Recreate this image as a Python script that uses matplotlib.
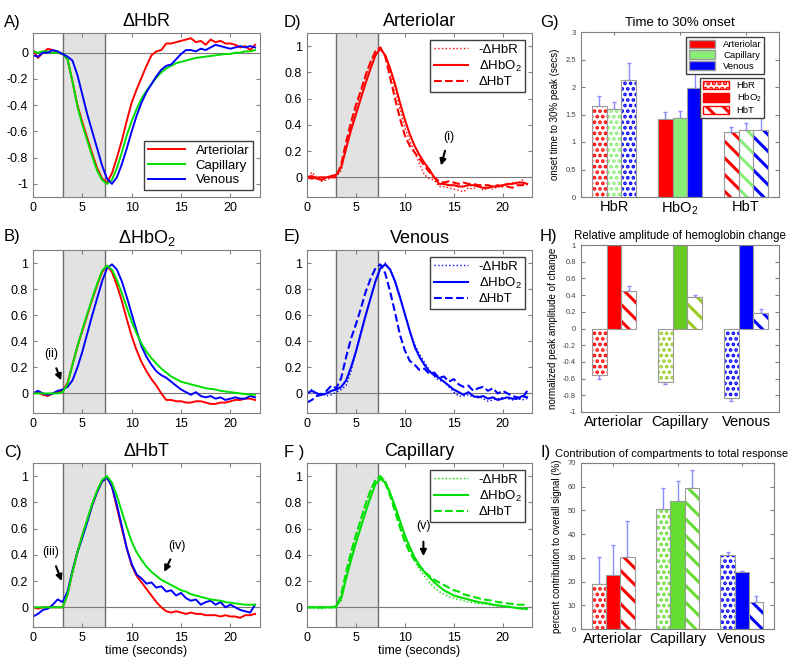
import matplotlib
matplotlib.use("Agg")
import matplotlib.pyplot as plt
from matplotlib.patches import Patch
from matplotlib.ticker import FuncFormatter

plt.rcParams['font.family'] = ['Liberation Sans', 'DejaVu Sans']
plt.rcParams['mathtext.fontset'] = 'custom'
plt.rcParams['mathtext.rm'] = 'Liberation Sans'
plt.rcParams['mathtext.it'] = 'Liberation Sans:italic'
plt.rcParams['hatch.linewidth'] = 2.2

# time axis (seconds) and stimulus window
t = [0, 0.5, 1, 1.5, 2, 2.5, 3, 3.5, 4, 4.5, 5, 5.5, 6, 6.5, 7, 7.5, 8, 8.5, 9, 9.5,
     10, 10.5, 11, 11.5, 12, 12.5, 13, 13.5, 14, 14.5, 15, 15.5, 16, 16.5, 17, 17.5,
     18, 18.5, 19, 19.5, 20, 20.5, 21, 21.5, 22, 22.5]
stim_on = 3.0
stim_off = 7.3

# normalised HbR responses
art_hbr = [0.02, -0.04, 0.0, 0.03, 0.02, 0.0, -0.01, -0.05, -0.22, -0.4, -0.53, -0.65, -0.77, -0.88, -0.96, -0.99,
           -0.92, -0.8, -0.67, -0.52, -0.38, -0.28, -0.19, -0.1, -0.02, 0.01, 0.02, 0.07, 0.07, 0.08, 0.09, 0.1,
           0.11, 0.08, 0.09, 0.06, 0.1, 0.08, 0.09, 0.07, 0.07, 0.06, 0.04, 0.05, 0.02, 0.06]
cap_hbr = [0.01, 0.0, 0.01, 0.01, 0.0, 0.0, -0.01, -0.05, -0.22, -0.41, -0.55, -0.67, -0.79, -0.9, -0.97, -1.0,
           -0.97, -0.88, -0.76, -0.63, -0.52, -0.43, -0.35, -0.29, -0.24, -0.19, -0.15, -0.12, -0.1, -0.08, -0.07, -0.06,
           -0.05, -0.04, -0.035, -0.03, -0.025, -0.02, -0.015, -0.01, -0.01, 0.0, 0.0, 0.01, 0.01, 0.02]
ven_hbr = [-0.02, -0.03, 0.0, 0.0, 0.02, 0.01, -0.01, -0.03, -0.06, -0.17, -0.32, -0.47, -0.6, -0.73, -0.86, -0.96,
           -1.0, -0.95, -0.85, -0.73, -0.6, -0.48, -0.38, -0.3, -0.24, -0.18, -0.13, -0.1, -0.09, -0.05, -0.01, 0.02,
           0.02, 0.01, 0.03, 0.02, 0.04, 0.06, 0.05, 0.04, 0.03, 0.04, 0.05, 0.04, 0.05, 0.04]

# normalised HbO2 responses
art_hbo2 = [0.0, 0.01, -0.01, -0.02, 0.0, 0.01, 0.02, 0.08, 0.22, 0.36, 0.48, 0.6, 0.72, 0.83, 0.93, 0.98,
            0.93, 0.83, 0.71, 0.57, 0.44, 0.33, 0.24, 0.17, 0.11, 0.06, 0.0, -0.05, -0.05, -0.06, -0.06, -0.07,
            -0.07, -0.06, -0.06, -0.07, -0.08, -0.08, -0.07, -0.07, -0.06, -0.05, -0.05, -0.04, -0.04, -0.05]
cap_hbo2 = [0.0, 0.0, 0.0, 0.0, 0.0, 0.0, 0.01, 0.07, 0.22, 0.36, 0.49, 0.61, 0.73, 0.84, 0.94, 0.98,
            0.95, 0.87, 0.77, 0.66, 0.55, 0.46, 0.38, 0.32, 0.27, 0.23, 0.19, 0.16, 0.13, 0.11, 0.09, 0.08,
            0.07, 0.06, 0.05, 0.04, 0.035, 0.03, 0.02, 0.015, 0.01, 0.005, 0.0, -0.005, -0.01, -0.01]
ven_hbo2 = [0.0, 0.02, 0.0, -0.01, 0.0, 0.02, 0.03, 0.05, 0.1, 0.2, 0.32, 0.46, 0.6, 0.73, 0.86, 0.96,
            0.99, 0.95, 0.86, 0.74, 0.61, 0.48, 0.36, 0.28, 0.22, 0.17, 0.14, 0.12, 0.09, 0.06, 0.03, 0.01,
            -0.01, 0.01, -0.02, -0.03, -0.02, -0.04, -0.03, -0.05, -0.04, -0.03, -0.04, -0.04, -0.02, -0.03]

# normalised HbT responses
art_hbt = [0.0, -0.01, 0.0, 0.0, 0.0, 0.0, 0.0, 0.1, 0.27, 0.42, 0.55, 0.66, 0.78, 0.88, 0.96, 0.99,
           0.92, 0.76, 0.6, 0.45, 0.32, 0.24, 0.19, 0.14, 0.09, 0.04, 0.0, -0.03, -0.04, -0.03, -0.04, -0.05,
           -0.04, -0.05, -0.05, -0.06, -0.06, -0.06, -0.07, -0.06, -0.07, -0.07, -0.08, -0.06, -0.06, -0.05]
cap_hbt = [0.0, 0.0, 0.0, 0.0, 0.0, 0.0, 0.0, 0.1, 0.27, 0.42, 0.55, 0.67, 0.79, 0.89, 0.97, 1.0,
           0.95, 0.85, 0.73, 0.61, 0.5, 0.42, 0.36, 0.31, 0.27, 0.24, 0.21, 0.19, 0.17, 0.15, 0.13, 0.12,
           0.1, 0.09, 0.08, 0.07, 0.06, 0.055, 0.05, 0.04, 0.035, 0.03, 0.025, 0.02, 0.02, 0.02]
ven_hbt = [-0.07, -0.05, -0.02, -0.01, 0.02, 0.06, 0.04, 0.12, 0.28, 0.42, 0.53, 0.65, 0.78, 0.88, 0.96, 0.99,
           0.92, 0.78, 0.62, 0.45, 0.33, 0.25, 0.22, 0.18, 0.19, 0.15, 0.16, 0.12, 0.13, 0.09, 0.11, 0.07,
           0.05, 0.06, 0.02, 0.04, 0.05, 0.02, 0.04, 0.0, 0.02, 0.0, -0.02, -0.03, -0.04, 0.02]

compartments = ['Arteriolar', 'Capillary', 'Venous']
hb_types = ['HbR', 'HbO$_2$', 'HbT']

# G) onset time to 30% peak, rows = hb type, cols = compartment
onset = [[1.65, 1.60, 2.12], [1.41, 1.44, 1.99], [1.18, 1.22, 1.21]]
onset_err = [[0.18, 0.12, 0.31], [0.13, 0.13, 0.31], [0.09, 0.12, 0.47]]
# H) relative amplitude, rows = compartment, cols = hb type
amp = [[-0.56, 1.0, 0.45], [-0.64, 1.0, 0.376], [-0.83, 1.0, 0.19]]
amp_err = [[0.05, 0.0, 0.06], [0.02, 0.0, 0.025], [0.04, 0.0, 0.04]]
# I) contribution (%), rows = compartment, cols = hb type
contrib = [[19.0, 22.9, 30.2], [50.7, 53.9, 59.5], [31.2, 24.1, 11.2]]
contrib_err = [[11.4, 12.7, 15.5], [8.8, 8.7, 7.4], [1.4, 0.4, 2.8]]

RED = '#ff0000'
GREEN = '#00e000'
BLUE = '#0000ff'
hatches = ['...', '', '\\\\']
hatch_lw = [1.8, 2.2, 2.2]

fig = plt.figure(figsize=(8, 6.65), dpi=100)


def px_axes(l, t_, r, b):
    return fig.add_axes([l / 800, 1 - b / 665, (r - l) / 800, (b - t_) / 665])


fmt = FuncFormatter(lambda v, p: '%g' % round(v, 3))


def style_axes(ax, labelsize=9):
    ax.tick_params(direction='in', top=True, right=True, labelsize=labelsize, length=3,
                   color='#808080', width=0.8)
    for s in ax.spines.values():
        s.set_color('#808080')
        s.set_linewidth(0.8)
    ax.yaxis.set_major_formatter(fmt)


def time_panel(ax, title, ylim, yticks):
    ax.axvspan(stim_on, stim_off, color='#e2e2e2', zorder=0, lw=0)
    ax.axvline(stim_on, color='#6e6e6e', lw=1, zorder=1)
    ax.axvline(stim_off, color='#6e6e6e', lw=1, zorder=1)
    ax.axhline(0, color='#7a7a7a', lw=0.8, zorder=1)
    ax.set_xlim(0, 23)
    ax.set_ylim(ylim)
    ax.set_xticks([0, 5, 10, 15, 20])
    ax.set_yticks(yticks)
    ax.set_title(title, fontsize=13, pad=5)
    style_axes(ax)


up = [0, 0.2, 0.4, 0.6, 0.8, 1]
down = [-1, -0.8, -0.6, -0.4, -0.2, 0]
arrow = dict(arrowstyle='-|>', color='black', lw=1.5, shrinkA=4, shrinkB=0)

# column 1: by hemoglobin type
axA = px_axes(33, 33, 260, 197)
time_panel(axA, '\u0394HbR', (-1.1, 0.15), down)
axA.plot(t, art_hbr, color=RED, lw=1.4, label='Arteriolar')
axA.plot(t, cap_hbr, color=GREEN, lw=1.4, label='Capillary')
axA.plot(t, ven_hbr, color=BLUE, lw=1.4, label='Venous')
axA.legend(loc='lower right', fontsize=9.5, fancybox=False, edgecolor='#404040',
           handlelength=2.8, borderpad=0.3, labelspacing=0.2, framealpha=1)

axB = px_axes(33, 250, 260, 413)
time_panel(axB, '\u0394HbO$_2$', (-0.15, 1.1), up)
axB.plot(t, art_hbo2, color=RED, lw=1.4)
axB.plot(t, ven_hbo2, color=BLUE, lw=1.4)
axB.plot(t, cap_hbo2, color=GREEN, lw=1.4)
axB.annotate('(ii)', xy=(2.85, 0.1), xytext=(1.8, 0.3), fontsize=9, ha='center', va='center',
             arrowprops=arrow)

axC = px_axes(33, 463, 260, 627)
time_panel(axC, '\u0394HbT', (-0.15, 1.1), up)
axC.plot(t, art_hbt, color=RED, lw=1.4)
axC.plot(t, ven_hbt, color=BLUE, lw=1.4)
axC.plot(t, cap_hbt, color=GREEN, lw=1.4)
axC.set_xlabel('time (seconds)', fontsize=9, labelpad=1)
axC.annotate('(iii)', xy=(2.9, 0.2), xytext=(1.8, 0.42), fontsize=9, ha='center', va='center',
             arrowprops=arrow)
axC.annotate('(iv)', xy=(13.3, 0.27), xytext=(14.6, 0.47), fontsize=9, ha='center', va='center',
             arrowprops=arrow)

# column 2: by compartment
col2 = [('Arteriolar', RED, art_hbr, art_hbo2, art_hbt, 33, 197),
        ('Venous', BLUE, ven_hbr, ven_hbo2, ven_hbt, 250, 413),
        ('Capillary', GREEN, cap_hbr, cap_hbo2, cap_hbt, 463, 627)]
col2_axes = []
for name, c, hbr, hbo2, hbt, top, bot in col2:
    ax = px_axes(307, top, 532, bot)
    time_panel(ax, name, (-0.15, 1.1), up)
    ax.plot(t, [-v for v in hbr], color=c, lw=1.0, ls=':', label='-\u0394HbR')
    ax.plot(t, hbo2, color=c, lw=1.5, label='\u0394HbO$_2$')
    ax.plot(t, hbt, color=c, lw=1.5, ls='--', label='\u0394HbT')
    ax.legend(loc='upper right', fontsize=9.5, fancybox=False, edgecolor='#404040',
              handlelength=2.6, borderpad=0.3, labelspacing=0.2, framealpha=1)
    col2_axes.append(ax)
axD, axE, axF = col2_axes
axD.annotate('(i)', xy=(13.7, 0.09), xytext=(14.5, 0.31), fontsize=9, ha='center', va='center',
             arrowprops=arrow)
axF.annotate('(v)', xy=(11.9, 0.39), xytext=(11.9, 0.62), fontsize=9, ha='center', va='center',
             arrowprops=dict(arrow, shrinkA=5))
axF.set_xlabel('time (seconds)', fontsize=9, labelpad=1)

# column 3: bar summaries
ERR = '#8c8cff'
width = 0.222
offsets = [-width, 0, width]


def hatched_patch(p, lw):
    # per-artist hatch width where supported
    if hasattr(p, 'set_hatch_linewidth'):
        p.set_hatch_linewidth(lw)
    else:
        p._hatch_linewidth = lw


def bar_panel(ax, values, errors, color_of, hatch_of):
    for i in range(3):
        for j in range(3):
            x = i + 1 + offsets[j]
            v = values[i][j]
            c = color_of(i, j)
            k = hatch_of(i, j)
            if hatches[k]:
                with plt.rc_context({'hatch.linewidth': hatch_lw[k]}):
                    bars = ax.bar(x, v, width, color='white', edgecolor=c, hatch=hatches[k],
                                  lw=0, zorder=2)
                for p in bars:
                    hatched_patch(p, hatch_lw[k])
                ax.bar(x, v, width, fill=False, edgecolor='#9a9a9a', lw=0.8, zorder=3)
            else:
                ax.bar(x, v, width, color=c, edgecolor='#9a9a9a', lw=0.8, zorder=2)
            e = errors[i][j]
            if e > 0:
                yerr = [[0], [e]] if v >= 0 else [[e], [0]]
                ax.errorbar(x, v, yerr=yerr, fmt='none', ecolor=ERR, elinewidth=1,
                            capsize=1.5, capthick=1, zorder=1)
    ax.set_xlim(0.5, 3.5)
    style_axes(ax, labelsize=5.5)
    ax.tick_params(axis='x', labelsize=10.5, length=2, pad=2, bottom=False)
    ax.tick_params(axis='y', labelcolor='#444444')


axG = px_axes(581, 32, 779, 197)
g_colors = [RED, '#88ee77', BLUE]
bar_panel(axG, onset, onset_err, lambda i, j: g_colors[j], lambda i, j: i)
axG.set_ylim(0, 3)
axG.set_yticks([0, 0.5, 1, 1.5, 2, 2.5, 3])
axG.set_xticks([1, 2, 3])
axG.set_xticklabels(hb_types)
axG.set_ylabel('onset time to 30% peak (secs)', fontsize=7, labelpad=4)
axG.set_title('Time to 30% onset', fontsize=9.5, pad=4)
leg1 = axG.legend(handles=[Patch(facecolor=g_colors[k], edgecolor='#9a9a9a', label=compartments[k])
                           for k in range(3)],
                  loc='upper right', bbox_to_anchor=(0.95, 1.0), fontsize=6.8, fancybox=False,
                  edgecolor='#404040', framealpha=1, handlelength=2.8, handleheight=1.0,
                  borderpad=0.3, labelspacing=0.15)
axG.add_artist(leg1)
leg_handles = []
for k in range(3):
    p = Patch(facecolor='white' if hatches[k] else RED, edgecolor=RED, hatch=hatches[k], label=hb_types[k])
    hatched_patch(p, hatch_lw[k])
    leg_handles.append(p)
axG.legend(handles=leg_handles,
           loc='upper right', bbox_to_anchor=(0.95, 0.75), fontsize=6.8, fancybox=False,
           edgecolor='#404040', framealpha=1, handlelength=2.8, handleheight=1.0,
           borderpad=0.3, labelspacing=0.15)

axH = px_axes(581, 245, 779, 412)
h_solid = [RED, '#66cc22', BLUE]
h_hatch = [RED, '#99cc22', BLUE]
bar_panel(axH, amp, amp_err, lambda i, j: h_solid[i] if j == 1 else h_hatch[i], lambda i, j: j)
axH.set_ylim(-1, 1)
axH.set_yticks([-1, -0.8, -0.6, -0.4, -0.2, 0, 0.2, 0.4, 0.6, 0.8, 1])
axH.set_xticks([1, 2, 3])
axH.set_xticklabels(compartments)
axH.set_ylabel('normalized peak amplitude of change', fontsize=7, labelpad=4)
axH.set_title('Relative amplitude of hemoglobin change', fontsize=8.3, pad=4)

axI = px_axes(581, 463, 774, 629)
i_colors = [RED, '#66dd33', BLUE]
bar_panel(axI, contrib, contrib_err, lambda i, j: i_colors[i], lambda i, j: j)
axI.set_ylim(0, 70)
axI.set_yticks([0, 10, 20, 30, 40, 50, 60, 70])
axI.set_xticks([1, 2, 3])
axI.set_xticklabels(compartments)
axI.set_ylabel('percent contribution to overall signal (%)', fontsize=7, labelpad=4)
axI.set_title('Contribution of compartments to total response', fontsize=8.0, pad=4, x=0.47)

# panel letters
letters = [('A)', 4, 22), ('B)', 4, 237), ('C)', 4, 452),
           ('D)', 284, 22), ('E)', 284, 237), ('F )', 284, 452),
           ('G)', 540, 22), ('H)', 540, 237), ('I)', 541, 452)]
for s, x, y in letters:
    fig.text(x / 800, 1 - y / 665, s, fontsize=12, va='center', ha='left')

fig.savefig('out.png', dpi=100)
